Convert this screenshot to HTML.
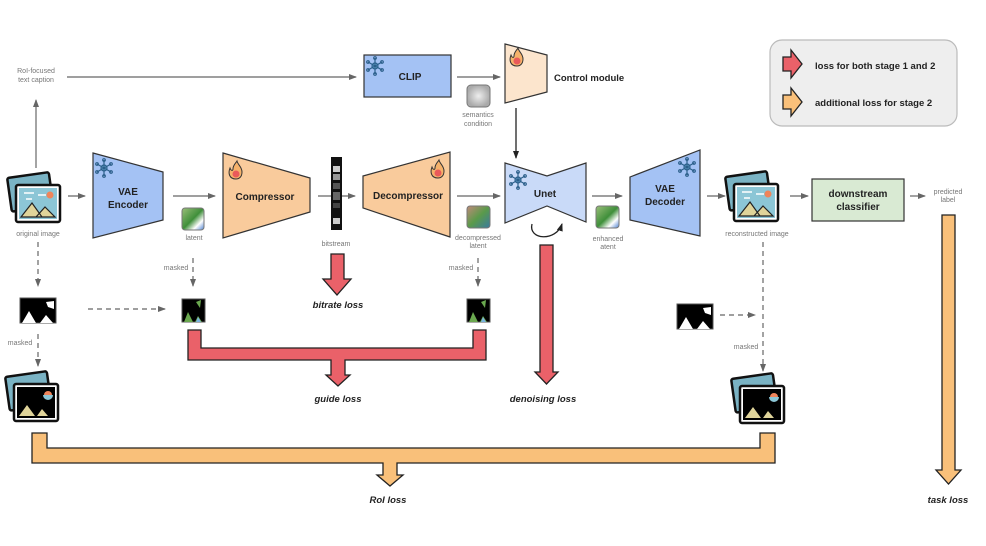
<!DOCTYPE html>
<html><head><meta charset="utf-8"><style>
html,body{margin:0;padding:0;background:#fff;}
svg{display:block;font-family:"Liberation Sans",sans-serif;}
.s{font-size:7px;fill:#777;text-anchor:middle;}
.b{font-size:10px;font-weight:bold;fill:#222;text-anchor:middle;}
.l{font-size:9.5px;font-weight:bold;font-style:italic;fill:#222;text-anchor:middle;}
</style></head><body>
<svg width="986" height="546" viewBox="0 0 986 546" xmlns="http://www.w3.org/2000/svg">
<defs>
<marker id="ah" markerWidth="8" markerHeight="8" refX="7" refY="4" orient="auto" markerUnits="userSpaceOnUse"><path d="M0,1 L8,4 L0,7 z" fill="#666"/></marker>
<marker id="ahk" markerWidth="8" markerHeight="8" refX="7" refY="4" orient="auto" markerUnits="userSpaceOnUse"><path d="M0,1 L8,4 L0,7 z" fill="#222"/></marker>
<linearGradient id="g1" x1="0" y1="0" x2="1" y2="1"><stop offset="0" stop-color="#9bbf7a"/><stop offset="0.5" stop-color="#3f8f3a"/><stop offset="0.75" stop-color="#fff"/><stop offset="1" stop-color="#4a7fd0"/></linearGradient>
<linearGradient id="g2" x1="0" y1="0" x2="1" y2="1"><stop offset="0" stop-color="#c08a7a"/><stop offset="0.5" stop-color="#5a9a4a"/><stop offset="1" stop-color="#3a7aa0"/></linearGradient>
<radialGradient id="g3"><stop offset="0" stop-color="#eee"/><stop offset="1" stop-color="#aaa"/></radialGradient>
<g id="snow" stroke="#2b5f8a" stroke-width="1.2" fill="none"><circle r="3" fill="#7ab7e0"/><path d="M0,-8V8M-7,-4L7,4M-7,4L7,-4"/><circle cx="0" cy="-8" r="1.3"/><circle cx="0" cy="8" r="1.3"/><circle cx="-7" cy="-4" r="1.3"/><circle cx="7" cy="4" r="1.3"/><circle cx="-7" cy="4" r="1.3"/><circle cx="7" cy="-4" r="1.3"/></g>
<g id="fire"><path d="M0,8 C-7,8 -8,2 -6,-3 C-5,0 -3,0 -3,-2 C-3,-6 0,-8 1,-10 C2,-6 6,-4 6,1 C6,6 3,8 0,8z" fill="#f6b26b" stroke="#333" stroke-width="1"/><circle cy="3" r="3.5" fill="#ea5a5a"/></g>
<g id="img">
<rect x="-20" y="-22" width="42" height="34" rx="2" fill="#7ab3c4" stroke="#111" stroke-width="2.5" transform="rotate(-8)"/>
<rect x="-14" y="-12" width="44" height="37" rx="2" fill="#fff" stroke="#111" stroke-width="2.5"/>
<rect x="-11" y="-9" width="38" height="31" fill="#8cc6d6"/>
<path d="M-9,20 L2,6 L12,20z M6,20 L15,10 L25,20z" fill="#e0d49a" stroke="#222" stroke-width="1.2"/>
<circle cx="20" cy="-2" r="3.5" fill="#f0845a"/>
<path d="M-6,-4h10M8,-2h8M-4,2h6" stroke="#fff" stroke-width="1.5"/>
</g>
<g id="mimg">
<rect x="-20" y="-22" width="42" height="34" rx="2" fill="#7ab3c4" stroke="#111" stroke-width="2.5" transform="rotate(-8)"/>
<rect x="-14" y="-12" width="44" height="37" rx="2" fill="#fff" stroke="#111" stroke-width="2.5"/>
<rect x="-11" y="-9" width="38" height="31" fill="#000"/>
<path d="M-9,20 L-1,9 L7,20z M9,20 L14,13 L20,20z" fill="#e0d49a"/>
<circle cx="20" cy="-1" r="4" fill="#f0845a"/><path d="M15,-1 a5,5 0 0 0 10,0" fill="#8cc6d6"/>
</g>
<g id="mask"><rect width="36" height="25" fill="#000" stroke="#555"/><path d="M2,25 L9,13 L16,25z M20,25 L26,17 L33,25z M26,4 L34,3 L34,11 L28,9z" fill="#fff"/></g>
<g id="mlat"><rect width="23" height="23" fill="#000" stroke="#555"/><path d="M2,23 L6,13 L11,23z M13,23 L16,17 L20,23z M14,3 L19,1 L18,9z" fill="#6aa84f"/><path d="M14,23 L16,18 L19,23z" fill="#7ab3e0"/></g>
</defs>

<!-- legend -->
<rect x="770" y="40" width="187" height="86" rx="12" fill="#eeeeee" stroke="#bbb" stroke-width="1.2"/>
<path d="M783,57 h8 v-7 l11,14 l-11,14 v-7 h-8z" fill="#ea6169" stroke="#222" stroke-width="1.3"/>
<path d="M783,95 h8 v-7 l11,14 l-11,14 v-7 h-8z" fill="#f9c07a" stroke="#222" stroke-width="1.3"/>
<text x="815" y="69" font-size="9.5" fill="#222" font-weight="bold">loss for both stage 1 and 2</text>
<text x="815" y="106" font-size="9.5" fill="#222" font-weight="bold">additional loss for stage 2</text>

<!-- top row -->
<text x="36" y="73" class="s">RoI-focused</text><text x="36" y="82" class="s">text caption</text>
<line x1="36" y1="168" x2="36" y2="100" stroke="#666" stroke-width="1.2" marker-end="url(#ah)"/>
<line x1="67" y1="77" x2="356" y2="77" stroke="#666" stroke-width="1.2" marker-end="url(#ah)"/>
<rect x="364" y="55" width="87" height="42" fill="#a4c2f4" stroke="#333" stroke-width="1.2"/>
<use href="#snow" x="375" y="66"/>
<text x="410" y="80" class="b">CLIP</text>
<line x1="457" y1="77" x2="500" y2="77" stroke="#666" stroke-width="1.2" marker-end="url(#ah)"/>
<rect x="467" y="85" width="23" height="22" rx="4" fill="url(#g3)" stroke="#777"/>
<text x="478" y="117" class="s">semantics</text><text x="478" y="126" class="s">condition</text>
<path d="M505,44 L547,55 L547,92 L505,103z" fill="#fce5cd" stroke="#333" stroke-width="1.2"/>
<use href="#fire" x="517" y="58"/>
<text x="554" y="81" font-size="9.5" font-weight="bold" fill="#222">Control module</text>
<line x1="516" y1="108" x2="516" y2="158" stroke="#222" stroke-width="1.3" marker-end="url(#ahk)"/>

<!-- main row -->
<use href="#img" x="30" y="197"/>
<text x="38" y="236" class="s">original image</text>
<line x1="68" y1="196" x2="85" y2="196" stroke="#666" stroke-width="1.2" marker-end="url(#ah)"/>
<path d="M93,153 L163,172 L163,220 L93,238z" fill="#a4c2f4" stroke="#333" stroke-width="1.2"/>
<use href="#snow" x="104" y="168"/>
<text x="128" y="195" class="b">VAE</text><text x="128" y="208" class="b">Encoder</text>
<line x1="173" y1="196" x2="215" y2="196" stroke="#666" stroke-width="1.2" marker-end="url(#ah)"/>
<rect x="182" y="208" width="22" height="22" rx="3" fill="url(#g1)" stroke="#777"/>
<text x="194" y="240" class="s">latent</text>
<path d="M223,153 L310,178 L310,212 L223,238z" fill="#f9cb9c" stroke="#333" stroke-width="1.2"/>
<use href="#fire" x="236" y="171"/>
<text x="265" y="200" class="b">Compressor</text>
<line x1="318" y1="196" x2="355" y2="196" stroke="#666" stroke-width="1.2" marker-end="url(#ah)"/>
<rect x="331" y="157" width="11" height="73" fill="#111"/>
<rect x="333" y="166" width="7" height="6" fill="#ccc"/><rect x="333" y="174" width="7" height="6" fill="#999"/><rect x="333" y="183" width="7" height="6" fill="#555"/><rect x="333" y="192" width="7" height="8" fill="#666"/><rect x="333" y="203" width="7" height="5" fill="#444"/><rect x="333" y="218" width="7" height="6" fill="#ccc"/>
<text x="336" y="246" class="s">bitstream</text>
<path d="M363,176 L450,152 L450,237 L363,208z" fill="#f9cb9c" stroke="#333" stroke-width="1.2"/>
<use href="#fire" x="438" y="170"/>
<text x="408" y="199" class="b">Decompressor</text>
<line x1="457" y1="196" x2="500" y2="196" stroke="#666" stroke-width="1.2" marker-end="url(#ah)"/>
<rect x="467" y="206" width="23" height="22" rx="3" fill="url(#g2)" stroke="#777"/>
<text x="478" y="240" class="s">decompressed</text><text x="478" y="248" class="s">latent</text>
<path d="M505,163 L547,176 L586,163 L586,222 L547,206 L505,223z" fill="#c9daf8" stroke="#333" stroke-width="1.2"/>
<use href="#snow" x="518" y="180"/>
<text x="545" y="197" class="b">Unet</text>
<path d="M532,224 C528,240 556,242 562,224" fill="none" stroke="#222" stroke-width="1.3" marker-end="url(#ahk)"/>
<line x1="592" y1="196" x2="622" y2="196" stroke="#666" stroke-width="1.2" marker-end="url(#ah)"/>
<rect x="596" y="206" width="23" height="22" rx="3" fill="url(#g1)" stroke="#777"/>
<text x="608" y="241" class="s">enhanced</text><text x="608" y="249" class="s">atent</text>
<path d="M630,177 L700,150 L700,236 L630,220z" fill="#a4c2f4" stroke="#333" stroke-width="1.2"/>
<use href="#snow" x="687" y="167"/>
<text x="665" y="192" class="b">VAE</text><text x="665" y="205" class="b">Decoder</text>
<line x1="707" y1="196" x2="725" y2="196" stroke="#666" stroke-width="1.2" marker-end="url(#ah)"/>
<use href="#img" x="748" y="196"/>
<text x="757" y="236" class="s">reconstructed image</text>
<line x1="790" y1="196" x2="808" y2="196" stroke="#666" stroke-width="1.2" marker-end="url(#ah)"/>
<rect x="812" y="179" width="92" height="42" fill="#d9ead3" stroke="#333" stroke-width="1.2"/>
<text x="858" y="197" class="b">downstream</text><text x="858" y="210" class="b">classifier</text>
<line x1="910" y1="196" x2="925" y2="196" stroke="#666" stroke-width="1.2" marker-end="url(#ah)"/>
<text x="948" y="194" class="s">predicted</text><text x="948" y="202" class="s">label</text>

<!-- masking -->
<g stroke="#666" stroke-width="1.2" stroke-dasharray="5,4" fill="none">
<line x1="38" y1="242" x2="38" y2="286" marker-end="url(#ah)"/>
<line x1="38" y1="334" x2="38" y2="366" marker-end="url(#ah)"/>
<line x1="88" y1="309" x2="165" y2="309" marker-end="url(#ah)"/>
<line x1="193" y1="258" x2="193" y2="286" marker-end="url(#ah)"/>
<line x1="478" y1="258" x2="478" y2="286" marker-end="url(#ah)"/>
<line x1="720" y1="315" x2="755" y2="315" marker-end="url(#ah)"/>
<line x1="763" y1="242" x2="763" y2="371" marker-end="url(#ah)"/>
</g>
<text x="20" y="345" class="s">masked</text>
<text x="176" y="270" class="s">masked</text>
<text x="461" y="270" class="s">masked</text>
<text x="746" y="349" class="s">masked</text>
<use href="#mask" x="20" y="298"/>
<use href="#mlat" x="182" y="299"/>
<use href="#mlat" x="467" y="299"/>
<use href="#mask" x="677" y="304"/>
<use href="#mimg" x="28" y="396"/>
<use href="#mimg" x="754" y="398"/>

<!-- losses -->
<g stroke="#222" stroke-width="1.3" stroke-linejoin="miter">
<path d="M331,254 h13 v25 h7 l-14,16 l-14,-16 h8z" fill="#ea6169"/>
<path d="M188,330 h13 v18 h272 v-18 h13 v30 h-141 v15 h5 l-12,11 l-12,-11 h5 v-15 h-143z" fill="#ea6169"/>
<path d="M540,245 h13 v127 h5 l-11.5,12 l-11.5,-12 h5z" fill="#ea6169"/>
<path d="M32,433 h15 v15 h713 v-15 h15 v30 h-378 v12 h6 l-13,11 l-13,-11 h6 v-12 h-351z" fill="#f9c07a"/>
<path d="M942,215 h13 v255 h6 l-12.5,14 l-12.5,-14 h6z" fill="#f9c07a"/>
</g>
<text x="338" y="308" class="l">bitrate loss</text>
<text x="338" y="402" class="l">guide loss</text>
<text x="543" y="402" class="l">denoising loss</text>
<text x="388" y="503" class="l">RoI loss</text>
<text x="948" y="503" class="l">task loss</text>
</svg>
</body></html>
